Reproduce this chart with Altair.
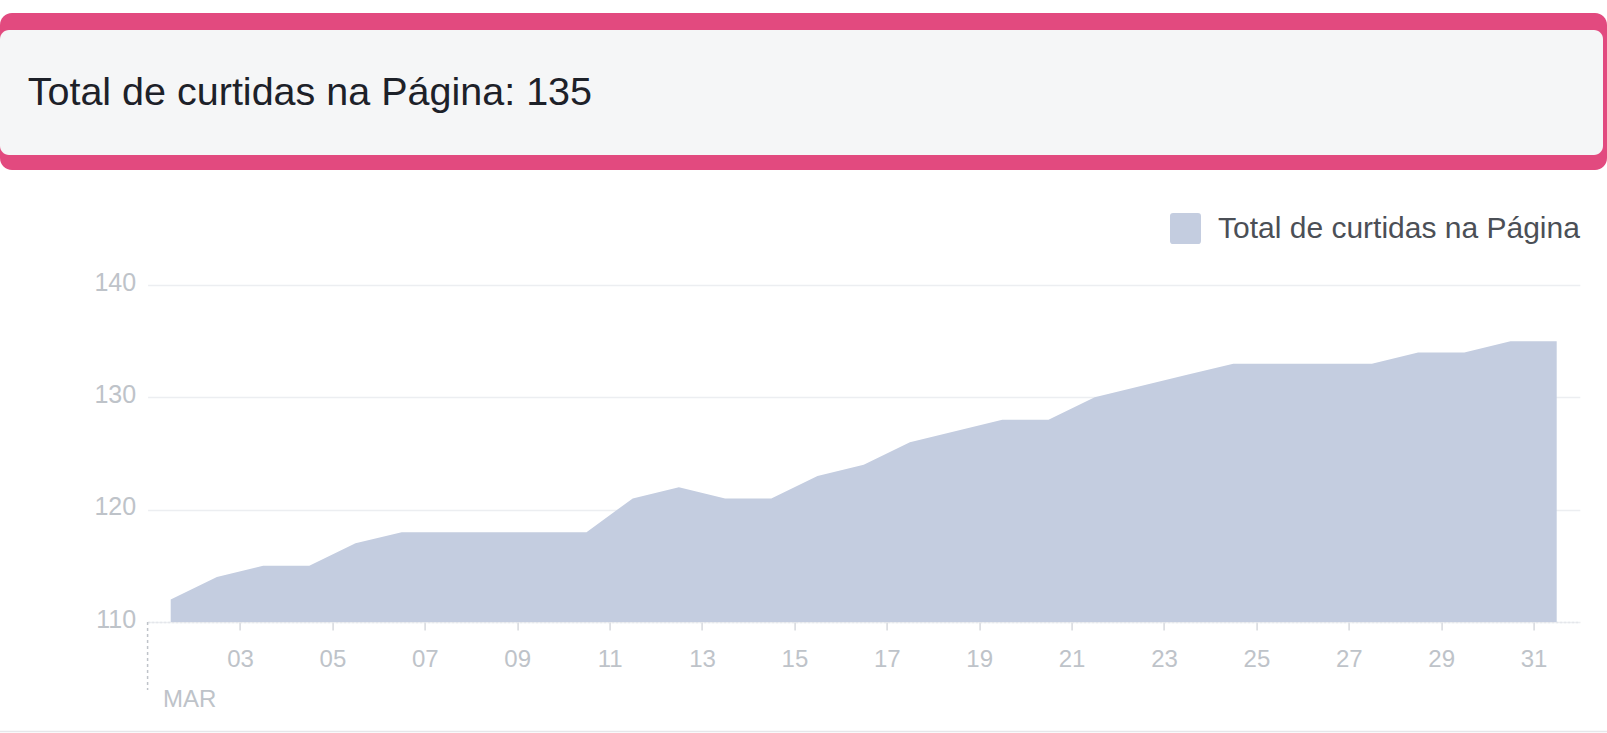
import altair as alt
import pandas as pd

# ---- data ----
days = list(range(1, 32))
likes = [112, 114, 115, 115, 117, 118, 118, 118, 118, 118,
         121, 122, 121, 121, 123, 124, 126, 127, 128, 128,
         130, 131, 132, 133, 133, 133, 133, 134, 134, 135, 135]
x_tick_values = [3, 5, 7, 9, 11, 13, 15, 17, 19, 21, 23, 25, 27, 29, 31]
y_tick_values = [110, 120, 130, 140]
series_name = "Total de curtidas na Página"
header_text = "Total de curtidas na Página: 135"
month_label = "MAR"

df = pd.DataFrame({"dia": days, "curtidas": likes, "serie": series_name})
one = pd.DataFrame({"t": [header_text]})
month_df = pd.DataFrame({"dia": [1], "rotulo": [month_label]})

# ---- layout ----
W, H = 1607, 733
PL, PT, PR, PB = 147.6, 285, 27.2, 111
PW = W - PL - PR
PH = H - PT - PB

FONT = "Liberation Sans"
AREA_COLOR = "#c4cde0"
LABEL_GRAY = "#bec3c9"

x_scale = alt.Scale(domain=[1, 32], nice=False, zero=False)
y_scale = alt.Scale(domain=[110, 140], nice=False, zero=False)

x_axis = alt.Axis(values=x_tick_values, format="02d", title=None,
                  grid=False, ticks=True, tickSize=8,
                  tickColor="#d6d9de", tickWidth=1.5,
                  domain=True, domainColor="#e4e6eb",
                  domainDash=[2, 2], domainWidth=1.5,
                  labelFontSize=24, labelColor=LABEL_GRAY,
                  labelFont=FONT, labelPadding=17,
                  labelFlush=False)

rounded_square = ("M-0.8,-1 L0.8,-1 Q1,-1 1,-0.8 L1,0.8 Q1,1 0.8,1 "
                  "L-0.8,1 Q-1,1 -1,0.8 L-1,-0.8 Q-1,-1 -0.8,-1 Z")

area = (
    alt.Chart(df)
    .transform_calculate(meio="datum.dia + 0.5")
    .mark_area(interpolate="linear", opacity=1)
    .encode(
        x=alt.X("meio:Q", scale=x_scale, axis=x_axis),
        y=alt.Y("curtidas:Q", scale=y_scale,
                axis=alt.Axis(values=y_tick_values, title=None, domain=False,
                              ticks=False, grid=True, gridColor="#eceef1",
                              gridWidth=1.5, labelFontSize=25,
                              labelColor=LABEL_GRAY, labelFont=FONT,
                              labelPadding=12, labelOffset=-3)),
        y2=alt.datum(110),
        color=alt.Color("serie:N", scale=alt.Scale(range=[AREA_COLOR]),
                        legend=alt.Legend(title=None, orient="none",
                                          legendX=1170 - PL, legendY=213 - PT,
                                          symbolType=rounded_square,
                                          symbolSize=961, symbolStrokeWidth=0,
                                          symbolOpacity=1,
                                          labelFontSize=30, labelFont=FONT,
                                          labelColor="#4b4f56", labelOffset=17,
                                          padding=0, labelLimit=0)),
    )
)

month_rule = (
    alt.Chart(month_df)
    .mark_rule(color="#bfc3c9", strokeDash=[3, 3], strokeWidth=1.5)
    .encode(x=alt.X("dia:Q", scale=x_scale, axis=x_axis),
            y=alt.value(PH), y2=alt.value(690 - PT))
)

month_text = (
    alt.Chart(month_df)
    .mark_text(align="left", baseline="middle", fontSize=24, font=FONT,
               color=LABEL_GRAY, dx=15.5)
    .encode(x=alt.X("dia:Q", scale=x_scale, axis=x_axis),
            y=alt.value(700 - PT), text="rotulo:N")
)

pink_box = (
    alt.Chart(one)
    .mark_rect(color="#e24a7f", cornerRadius=12)
    .encode(x=alt.value(-PL), x2=alt.value(W - PL),
            y=alt.value(13 - PT), y2=alt.value(170 - PT))
)

gray_box = (
    alt.Chart(one)
    .mark_rect(color="#f5f6f7", cornerRadius=9)
    .encode(x=alt.value(0 - PL), x2=alt.value(1603 - PL),
            y=alt.value(30 - PT), y2=alt.value(155 - PT))
)

header = (
    alt.Chart(one)
    .mark_text(align="left", baseline="alphabetic", fontSize=39.5, font=FONT,
               color="#1d2129")
    .encode(x=alt.value(27.7 - PL), y=alt.value(104.5 - PT), text="t:N")
)

bottom_line = (
    alt.Chart(one)
    .mark_rule(color="#e6e7ea", strokeWidth=1.5)
    .encode(x=alt.value(-PL), x2=alt.value(W - PL), y=alt.value(731.5 - PT))
)

chart = (
    alt.layer(pink_box, gray_box, header, bottom_line, area, month_rule, month_text)
    .properties(width=PW, height=PH, autosize="none",
                padding={"left": PL, "top": PT, "right": PR, "bottom": PB},
                background="white")
    .configure(font=FONT)
    .configure_view(strokeWidth=0, stroke="transparent")
)

chart.save("out.html", embed_options={"renderer": "svg", "actions": False})
